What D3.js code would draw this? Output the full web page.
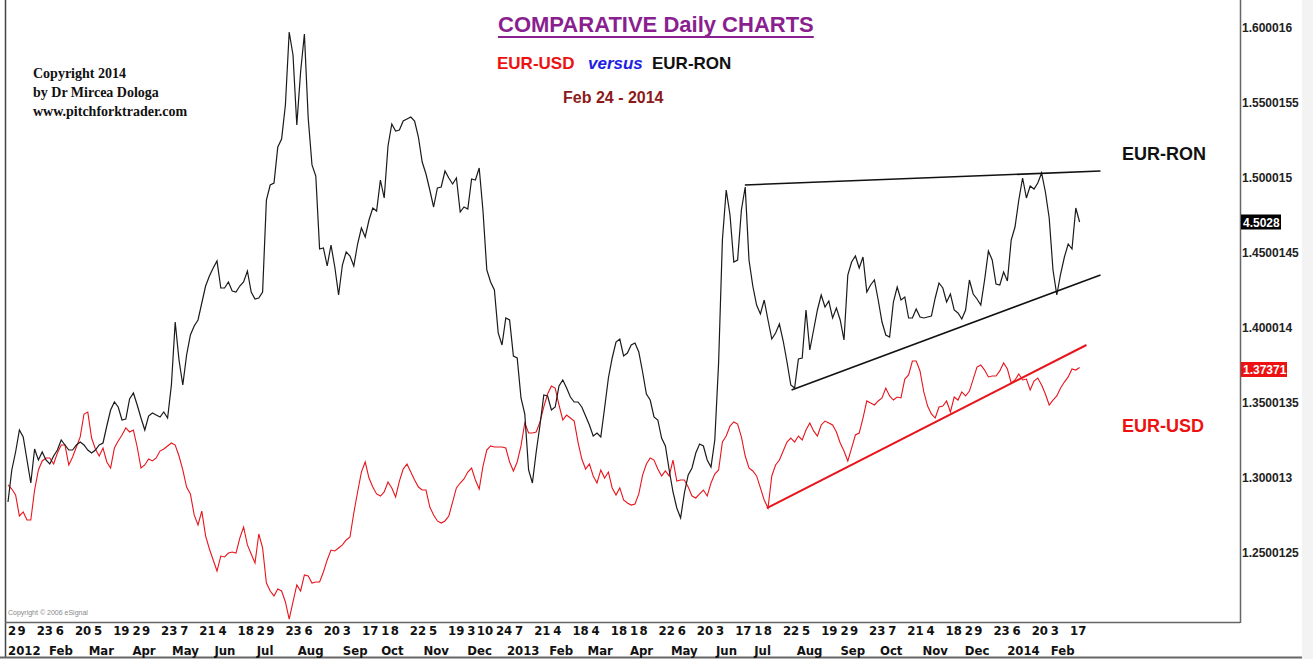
<!DOCTYPE html>
<html>
<head>
<meta charset="utf-8">
<script src="https://cdn.jsdelivr.net/npm/d3@7"></script>
<style>
  body { margin: 0; background: #fff; }
  svg { display: block; }
</style>
</head>
<body>
<svg id="chart" width="1313" height="659"></svg>
<script>
// EUR-RON, one reading every second session, Jan 2 2012 .. Feb 21 2014
var ronValues = [
  4.2788, 4.3044, 4.3188, 4.3364, 4.3308, 4.3124, 4.2940, 4.3212, 4.3124, 4.3188,
  4.3124, 4.3092, 4.3156, 4.3204, 4.3284, 4.3244, 4.3204, 4.3204, 4.3244, 4.3268,
  4.3244, 4.3204, 4.3180, 4.3204, 4.3244, 4.3260, 4.3396, 4.3524, 4.3588, 4.3548,
  4.3444, 4.3452, 4.3612, 4.3660, 4.3564, 4.3460, 4.3364, 4.3476, 4.3500, 4.3484,
  4.3468, 4.3508, 4.3460, 4.3724, 4.4228, 4.3924, 4.3724, 4.3964, 4.4124, 4.4196,
  4.4244, 4.4380, 4.4516, 4.4596, 4.4660, 4.4716, 4.4500, 4.4500, 4.4548, 4.4476,
  4.4468, 4.4516, 4.4548, 4.4636, 4.4468, 4.4412, 4.4420, 4.4468, 4.5204, 4.5324,
  4.5340, 4.5628, 4.5692, 4.5964, 4.6548, 4.6364, 4.5804, 4.6228, 4.6532, 4.5860,
  4.5484, 4.5396, 4.4812, 4.4820, 4.4676, 4.4844, 4.4668, 4.4444, 4.4684, 4.4788,
  4.4756, 4.4676, 4.4852, 4.4980, 4.4908, 4.5044, 4.5140, 4.5116, 4.5364, 4.5220,
  4.5636, 4.5812, 4.5756, 4.5764, 4.5836, 4.5852, 4.5868, 4.5836, 4.5708, 4.5508,
  4.5412, 4.5284, 4.5148, 4.5300, 4.5308, 4.5436, 4.5380, 4.5332, 4.5380, 4.5108,
  4.5148, 4.5132, 4.5372, 4.5364, 4.5460, 4.5116, 4.4644, 4.4548, 4.4484, 4.4140,
  4.4044, 4.4260, 4.4244, 4.3956, 4.3940, 4.3620, 4.3492, 4.3044, 4.2940, 4.3188,
  4.3404, 4.3644, 4.3636, 4.3524, 4.3548, 4.3716, 4.3764, 4.3700, 4.3628, 4.3588,
  4.3588, 4.3548, 4.3476, 4.3404, 4.3316, 4.3340, 4.3308, 4.3540, 4.3780, 4.3940,
  4.4068, 4.4092, 4.3956, 4.3980, 4.4044, 4.4060, 4.3988, 4.3828, 4.3652, 4.3604,
  4.3468, 4.3444, 4.3300, 4.3236, 4.3044, 4.2868, 4.2740, 4.2660, 4.2860, 4.3004,
  4.3060, 4.3180, 4.3252, 4.3236, 4.3124, 4.3068, 4.3284, 4.3900, 4.4884, 4.5284,
  4.5084, 4.4708, 4.4724, 4.5124, 4.5308, 4.4724, 4.4516, 4.4364, 4.4292, 4.4404,
  4.4244, 4.4092, 4.4140, 4.4212, 4.4076, 4.3908, 4.3724, 4.3700, 4.3932, 4.3940,
  4.4324, 4.4004, 4.4164, 4.4324, 4.4444, 4.4348, 4.4396, 4.4260, 4.4340, 4.4244,
  4.4084, 4.4604, 4.4708, 4.4756, 4.4660, 4.4748, 4.4468, 4.4524, 4.4564, 4.4404,
  4.4228, 4.4124, 4.4108, 4.4388, 4.4508, 4.4404, 4.4428, 4.4260, 4.4260, 4.4332,
  4.4268, 4.4260, 4.4268, 4.4276, 4.4420, 4.4540, 4.4500, 4.4388, 4.4452, 4.4324,
  4.4300, 4.4252, 4.4324, 4.4564, 4.4452, 4.4412, 4.4364, 4.4564, 4.4796, 4.4724,
  4.4532, 4.4524, 4.4628, 4.4556, 4.4884, 4.4988, 4.5204, 4.5380, 4.5220, 4.5316,
  4.5292, 4.5340, 4.5420, 4.5268, 4.5060, 4.4644, 4.4444, 4.4612, 4.4748, 4.4852,
  4.4812, 4.5140, 4.5028
];

// EUR-USD, same sessions
var usdValues = [
  1.2954, 1.2927, 1.2887, 1.2747, 1.2774, 1.2720, 1.2720, 1.2920, 1.3054, 1.3114,
  1.3134, 1.3134, 1.3094, 1.3167, 1.3220, 1.3220, 1.3087, 1.3140, 1.3207, 1.3274,
  1.3427, 1.3440, 1.3267, 1.3194, 1.3147, 1.3200, 1.3107, 1.3067, 1.3200, 1.3247,
  1.3287, 1.3334, 1.3307, 1.3320, 1.3207, 1.3067, 1.3087, 1.3127, 1.3114, 1.3134,
  1.3180, 1.3194, 1.3214, 1.3234, 1.3220, 1.3147, 1.3054, 1.2940, 1.2894, 1.2754,
  1.2687, 1.2780, 1.2614, 1.2527, 1.2454, 1.2380, 1.2480, 1.2474, 1.2500, 1.2507,
  1.2500, 1.2600, 1.2674, 1.2554, 1.2494, 1.2434, 1.2627, 1.2534, 1.2300, 1.2247,
  1.2214, 1.2260, 1.2247, 1.2174, 1.2060, 1.2174, 1.2287, 1.2247, 1.2354, 1.2347,
  1.2300, 1.2307, 1.2307, 1.2374, 1.2454, 1.2520, 1.2514, 1.2534, 1.2554, 1.2587,
  1.2607, 1.2767, 1.2907, 1.3040, 1.3107, 1.3000, 1.2940, 1.2894, 1.2880, 1.2907,
  1.2974, 1.2934, 1.2874, 1.2980, 1.3060, 1.3094, 1.3040, 1.2987, 1.2940, 1.2920,
  1.2920, 1.2807, 1.2754, 1.2714, 1.2700, 1.2714, 1.2747, 1.2840, 1.2934, 1.2967,
  1.2994, 1.3040, 1.3067, 1.2987, 1.2927, 1.3080, 1.3187, 1.3214, 1.3207, 1.3207,
  1.3207, 1.3200, 1.3107, 1.3047, 1.3107, 1.3214, 1.3367, 1.3300, 1.3300, 1.3307,
  1.3374, 1.3474, 1.3560, 1.3614, 1.3600, 1.3487, 1.3387, 1.3420, 1.3400, 1.3380,
  1.3240, 1.3127, 1.3060, 1.3094, 1.3014, 1.2967, 1.3054, 1.3000, 1.3040, 1.2934,
  1.2887, 1.2934, 1.2854, 1.2834, 1.2820, 1.2827, 1.2894, 1.3020, 1.3094, 1.3134,
  1.3120, 1.3060, 1.3014, 1.3047, 1.3014, 1.3120, 1.2980, 1.2987, 1.2987, 1.2940,
  1.2880, 1.2867, 1.2894, 1.2920, 1.2880, 1.2967, 1.3027, 1.3054, 1.3240, 1.3280,
  1.3347, 1.3374, 1.3360, 1.3274, 1.3147, 1.3067, 1.3047, 1.3014, 1.2934, 1.2854,
  1.2800, 1.3014, 1.3087, 1.3120, 1.3180, 1.3240, 1.3267, 1.3240, 1.3280, 1.3254,
  1.3320, 1.3367, 1.3314, 1.3280, 1.3354, 1.3380, 1.3367, 1.3354, 1.3307, 1.3234,
  1.3180, 1.3114, 1.3200, 1.3287, 1.3300, 1.3400, 1.3514, 1.3500, 1.3487, 1.3514,
  1.3534, 1.3600, 1.3547, 1.3520, 1.3540, 1.3534, 1.3660, 1.3687, 1.3780, 1.3780,
  1.3714, 1.3574, 1.3480, 1.3427, 1.3400, 1.3474, 1.3480, 1.3514, 1.3440, 1.3540,
  1.3520, 1.3574, 1.3547, 1.3580, 1.3660, 1.3740, 1.3754, 1.3720, 1.3674, 1.3680,
  1.3680, 1.3714, 1.3767, 1.3727, 1.3634, 1.3654, 1.3694, 1.3654, 1.3660, 1.3587,
  1.3647, 1.3667, 1.3620, 1.3560, 1.3487, 1.3520, 1.3547, 1.3600, 1.3640, 1.3674,
  1.3727, 1.3720, 1.3737
];

// trend lines drawn on the chart: [sample index, value]
var ronTopLine = [[193.9, 4.5324], [287.5, 4.5436]];
var ronLowLine = [[206.2, 4.3684], [287.5, 4.4604]];
var usdLine = [[199.7, 1.2800], [283.8, 1.3887]];

var usdTicks = [1.600016, 1.5500155, 1.500015, 1.4500145, 1.400014, 1.3500135, 1.300013, 1.2500125];

var mondays = [
  "2012-01-02", "2012-01-09", "2012-01-23", "2012-02-06", "2012-02-20", "2012-03-05", "2012-03-19",
  "2012-04-02", "2012-04-09", "2012-04-23", "2012-05-07", "2012-05-21", "2012-06-04", "2012-06-18",
  "2012-07-02", "2012-07-09", "2012-07-23", "2012-08-06", "2012-08-20", "2012-09-03", "2012-09-17",
  "2012-10-01", "2012-10-08", "2012-10-22", "2012-11-05", "2012-11-19", "2012-12-03", "2012-12-10",
  "2012-12-24", "2013-01-07", "2013-01-21", "2013-02-04", "2013-02-18", "2013-03-04", "2013-03-18",
  "2013-04-01", "2013-04-08", "2013-04-22", "2013-05-06", "2013-05-20", "2013-06-03", "2013-06-17",
  "2013-07-01", "2013-07-08", "2013-07-22", "2013-08-05", "2013-08-19", "2013-09-02", "2013-09-09",
  "2013-09-23", "2013-10-07", "2013-10-21", "2013-11-04", "2013-11-18", "2013-12-02", "2013-12-09",
  "2013-12-23", "2014-01-06", "2014-01-20", "2014-02-03", "2014-02-17"
];

// month names sit on the first session of each month
var months = [
  ["2012-01-02", "2012"], ["2012-02-01", "Feb"], ["2012-03-01", "Mar"], ["2012-04-02", "Apr"],
  ["2012-05-01", "May"], ["2012-06-01", "Jun"], ["2012-07-02", "Jul"], ["2012-08-01", "Aug"],
  ["2012-09-03", "Sep"], ["2012-10-01", "Oct"], ["2012-11-01", "Nov"], ["2012-12-03", "Dec"],
  ["2013-01-01", "2013"], ["2013-02-01", "Feb"], ["2013-03-01", "Mar"], ["2013-04-01", "Apr"],
  ["2013-05-01", "May"], ["2013-06-03", "Jun"], ["2013-07-01", "Jul"], ["2013-08-01", "Aug"],
  ["2013-09-02", "Sep"], ["2013-10-01", "Oct"], ["2013-11-01", "Nov"], ["2013-12-02", "Dec"],
  ["2014-01-02", "2014"], ["2014-02-03", "Feb"]
];

var W = 1313, H = 659;
var plotLeft = 6, plotRight = 1240, plotBottom = 622;
var axisFont = '"Liberation Sans Narrow", "DejaVu Sans Condensed", sans-serif';

var svg = d3.select("#chart");
var parse = d3.timeParse("%Y-%m-%d");

var x = d3.scaleLinear().domain([0, 282]).range([8, 1079.6]);
var xTime = d3.scaleTime()
  .domain([parse("2012-01-02"), parse("2014-02-17")])
  .range([10, 1072]);
var yUsd = d3.scaleLinear().domain([1.2187, 1.6187]).range([600, 0]);
var yRon = d3.scaleLinear().domain([4.1804, 4.6804]).range([625, 0]);

svg.append("rect").attr("width", W).attr("height", H).attr("fill", "#fff");
svg.append("rect").attr("x", 1302).attr("width", W - 1302).attr("height", H).attr("fill", "#f3f3f3");

svg.append("clipPath").attr("id", "plot")
  .append("rect")
  .attr("x", plotLeft).attr("y", 0)
  .attr("width", plotRight - plotLeft).attr("height", plotBottom);

var g = svg.append("g").attr("clip-path", "url(#plot)");

var ronLine = d3.line()
  .x(function (d, i) { return x(i); })
  .y(function (d) { return yRon(d); });
var usdLinePath = d3.line()
  .x(function (d, i) { return x(i); })
  .y(function (d) { return yUsd(d); });

g.append("path").datum(usdValues)
  .attr("d", usdLinePath)
  .attr("fill", "none").attr("stroke", "#e8141c").attr("stroke-width", 1.1);

g.append("path").datum(ronValues)
  .attr("d", ronLine)
  .attr("fill", "none").attr("stroke", "#1a1a1a").attr("stroke-width", 1.2);

// trend lines
var seg = d3.line().x(function (d) { return x(d[0]); });
g.append("path").datum(ronTopLine)
  .attr("d", seg.y(function (d) { return yRon(d[1]); }))
  .attr("stroke", "#111").attr("stroke-width", 1.6).attr("fill", "none");
g.append("path").datum(ronLowLine)
  .attr("d", seg.y(function (d) { return yRon(d[1]); }))
  .attr("stroke", "#111").attr("stroke-width", 1.6).attr("fill", "none");
g.append("path").datum(usdLine)
  .attr("d", seg.y(function (d) { return yUsd(d[1]); }))
  .attr("stroke", "#e8141c").attr("stroke-width", 2).attr("fill", "none");

// frame
svg.append("line").attr("x1", 5.5).attr("x2", 5.5).attr("y1", 0).attr("y2", 658)
  .attr("stroke", "#444").attr("stroke-width", 1.5);
svg.append("line").attr("x1", 5).attr("x2", plotRight).attr("y1", plotBottom + 0.5).attr("y2", plotBottom + 0.5)
  .attr("stroke", "#666").attr("stroke-width", 1.5);
svg.append("line").attr("x1", 0).attr("x2", 1302).attr("y1", 657.5).attr("y2", 657.5)
  .attr("stroke", "#666").attr("stroke-width", 2);

// right price axis
var yAxis = d3.axisRight(yUsd)
  .tickValues(usdTicks)
  .tickFormat(function (d) { return String(d); })
  .tickSize(0)
  .tickPadding(2);
var ax = svg.append("g")
  .attr("transform", "translate(" + plotRight + ",0)")
  .call(yAxis);
ax.select(".domain").attr("stroke", "#666").attr("stroke-width", 1.5)
  .attr("d", "M0.5,0V" + (plotBottom + 1));
ax.selectAll("text")
  .attr("font-family", "Liberation Sans, Arial, sans-serif")
  .attr("font-weight", "bold").attr("font-size", 12).attr("fill", "#222");

// last value boxes
function lastBox(yPos, label, fill, w) {
  svg.append("rect").attr("x", plotRight + 1).attr("y", yPos - 7.5)
    .attr("width", w).attr("height", 15).attr("fill", fill);
  svg.append("text").attr("x", plotRight + 3).attr("y", yPos + 4.5)
    .attr("font-family", "Liberation Sans, Arial, sans-serif")
    .attr("font-weight", "bold").attr("font-size", 12)
    .attr("fill", "#fff").text(label);
}
lastBox(yRon(ronValues[ronValues.length - 1]), "4.5028", "#000", 40);
lastBox(yUsd(usdValues[usdValues.length - 1]) + 2, "1.37371", "#ee1111", 46);

// date axis, two rows
svg.append("g").selectAll("text")
  .data(mondays)
  .enter()
  .append("text")
  .attr("x", function (d) { return xTime(parse(d)) - 2; })
  .attr("y", 635)
  .attr("font-family", axisFont).attr("font-weight", "bold").attr("font-size", 13)
  .attr("fill", "#111")
  .text(function (d) { return +d.slice(8); });

svg.append("g").selectAll("text")
  .data(months)
  .enter()
  .append("text")
  .attr("x", function (d) { return xTime(parse(d[0])) - 2; })
  .attr("y", 655)
  .attr("font-family", axisFont).attr("font-weight", "bold").attr("font-size", 13)
  .attr("fill", "#111")
  .text(function (d) { return d[1]; });

// titles
var title = svg.append("text")
  .attr("x", 498).attr("y", 32)
  .attr("font-family", "Liberation Sans, Arial, sans-serif")
  .attr("font-weight", "bold").attr("font-size", 22)
  .attr("fill", "#8a1f90")
  .text("COMPARATIVE Daily CHARTS");
var tw = title.node().getComputedTextLength();
svg.append("line").attr("x1", 498).attr("x2", 498 + tw).attr("y1", 37).attr("y2", 37)
  .attr("stroke", "#8a1f90").attr("stroke-width", 2);

var sub = svg.append("text")
  .attr("x", 497).attr("y", 69)
  .attr("font-family", "Liberation Sans, Arial, sans-serif")
  .attr("font-weight", "bold").attr("font-size", 17);
sub.append("tspan").attr("fill", "#ee1111").text("EUR-USD");
sub.append("tspan").attr("x", 588).attr("fill", "#1e22e0").attr("font-style", "italic").text("versus");
sub.append("tspan").attr("x", 652).attr("fill", "#111").text("EUR-RON");

svg.append("text")
  .attr("x", 563).attr("y", 103)
  .attr("font-family", "Liberation Sans, Arial, sans-serif")
  .attr("font-weight", "bold").attr("font-size", 16)
  .attr("fill", "#8b1a1a")
  .text("Feb 24 - 2014");

var copy = ["Copyright 2014", "by Dr Mircea Dologa", "www.pitchforktrader.com"];
svg.append("g").selectAll("text")
  .data(copy)
  .enter()
  .append("text")
  .attr("x", 33)
  .attr("y", function (d, i) { return 78 + i * 19; })
  .attr("font-family", "Liberation Serif, Times New Roman, serif")
  .attr("font-weight", "bold").attr("font-size", 14)
  .attr("fill", "#111")
  .text(function (d) { return d; });

svg.append("text")
  .attr("x", 1122).attr("y", 160)
  .attr("font-family", "Liberation Sans, Arial, sans-serif")
  .attr("font-weight", "bold").attr("font-size", 18)
  .attr("fill", "#111").text("EUR-RON");
svg.append("text")
  .attr("x", 1122).attr("y", 432)
  .attr("font-family", "Liberation Sans, Arial, sans-serif")
  .attr("font-weight", "bold").attr("font-size", 18)
  .attr("fill", "#ee1111").text("EUR-USD");

svg.append("text")
  .attr("x", 8).attr("y", 615)
  .attr("font-family", "Liberation Sans, Arial, sans-serif")
  .attr("font-size", 7).attr("fill", "#888")
  .text("Copyright \u00a9 2006 eSignal");
</script>
</body>
</html>
